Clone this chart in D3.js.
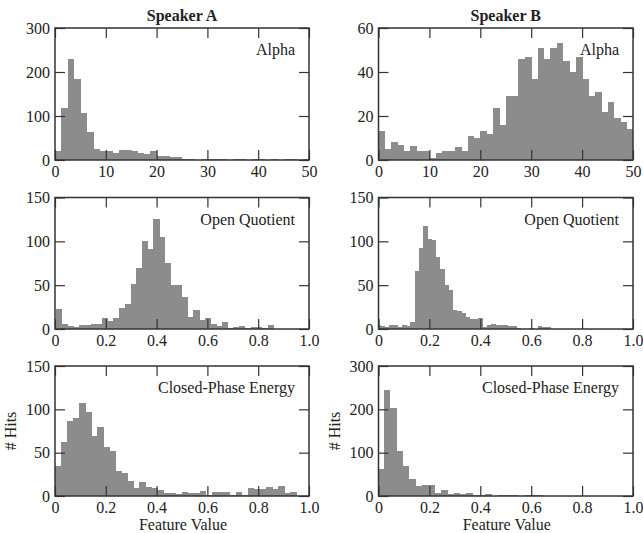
<!DOCTYPE html>
<html>
<head>
<meta charset="utf-8">
<script src="https://cdn.jsdelivr.net/npm/d3@7"></script>
<style>
  html, body { margin: 0; padding: 0; background: #ffffff; }
  svg { display: block; }
  text { font-family: "Liberation Serif", "Times New Roman", serif; fill: #222; }
</style>
</head>
<body>
<svg id="chart" width="643" height="533"></svg>
<script>
// ---------- data (histogram counts per bin) ----------
const speakers = ["Speaker A", "Speaker B"];
const featureNames = ["Alpha", "Open Quotient", "Closed-Phase Energy"];

// Alpha, 40 bins of width 1.25 starting at 0
const alphaA = [20, 119, 230, 183, 107, 64, 25, 20, 21, 15, 23, 23, 20, 17, 14, 20, 9, 9, 6, 6,
                3, 2, 1, 3, 2, 3, 3, 1, 2, 3, 1, 2, 3, 1, 2, 1, 2, 2, 1, 2];
const alphaB = [13, 5, 8, 7, 4, 6.5, 4, 4, 1, 3, 4, 4, 6, 4, 11, 10, 13, 12, 23.5, 16,
                29, 29, 46, 47, 37, 51, 46, 51, 53, 45, 40, 47, 37, 29, 31, 22, 26.5, 19, 17.5, 14];
const alphaBinStart = 0, alphaBinWidth = 1.25;

// Open Quotient
const oqA = [23, 6, 3, 2, 4, 5, 6, 6, 12, 9, 13, 24, 29, 51, 70, 100, 91, 125, 105, 75,
             50, 50, 37, 14, 22, 10, 13, 6, 3, 8, 1, 2, 3, 1, 2, 2, 1, 5];
const oqABinStart = 0.005, oqABinWidth = 0.0225;
const oqB = [4, 3, 2, 5, 4, 2, 4, 3, 8, 66, 92, 118, 103, 101, 82, 68, 50, 45, 22, 20,
             18, 14, 11, 11, 12, 2, 5, 6, 4, 4, 4, 3, 3, 1, 0, 0, 1, 0, 3, 2, 2];
const oqBBinStart = -0.008, oqBBinWidth = 1 / 60;

// Closed-Phase Energy
const cpeA = [35, 62, 86, 90, 107, 97, 69, 80, 56, 52, 29, 27, 17, 9, 16, 10, 9, 7, 3, 3,
              2, 5, 3, 4, 6, 1, 5, 5, 5, 1, 5, 1, 9, 8, 8, 10, 8, 11, 4, 5];
const cpeABinStart = 0, cpeABinWidth = 0.02375;
const cpeB = [62, 245, 202, 104, 70, 39, 22, 25, 25, 8, 14, 5, 6, 4, 6, 3, 2, 4, 1, 3,
              3, 3, 1, 2, 3, 3, 1, 0, 1];
const cpeBBinStart = -0.005, cpeBBinWidth = 0.025;

// axes
const alphaTicks = [0, 10, 20, 30, 40, 50];
const unitTicks = [0, 0.2, 0.4, 0.6, 0.8, 1.0];
const yTicksA = [[0, 100, 200, 300], [0, 50, 100, 150], [0, 50, 100, 150]];
const yTicksB = [[0, 20, 40, 60], [0, 50, 100, 150], [0, 100, 200, 300]];
const yLabel = "# Hits";
const xLabel = "Feature Value";

// ---------- layout ----------
const colX = [[55, 309], [378.5, 633]];
const rowY = [[28, 160], [197.5, 329], [366, 496]];
const barColor = "#8c8c8c";
const frameColor = "#333333";
const tickFont = 16;
const labelFont = 16;

const panels = [
  { col: 0, row: 0, counts: alphaA, start: alphaBinStart, width: alphaBinWidth, xDom: [0, 50], xTicks: alphaTicks, yTicks: yTicksA[0], label: featureNames[0] },
  { col: 1, row: 0, counts: alphaB, start: alphaBinStart, width: alphaBinWidth, xDom: [0, 50], xTicks: alphaTicks, yTicks: yTicksB[0], label: featureNames[0] },
  { col: 0, row: 1, counts: oqA, start: oqABinStart, width: oqABinWidth, xDom: [0, 1], xTicks: unitTicks, yTicks: yTicksA[1], label: featureNames[1] },
  { col: 1, row: 1, counts: oqB, start: oqBBinStart, width: oqBBinWidth, xDom: [0, 1], xTicks: unitTicks, yTicks: yTicksB[1], label: featureNames[1] },
  { col: 0, row: 2, counts: cpeA, start: cpeABinStart, width: cpeABinWidth, xDom: [0, 1], xTicks: unitTicks, yTicks: yTicksA[2], label: featureNames[2] },
  { col: 1, row: 2, counts: cpeB, start: cpeBBinStart, width: cpeBBinWidth, xDom: [0, 1], xTicks: unitTicks, yTicks: yTicksB[2], label: featureNames[2] }
];

const svg = d3.select("#chart");

const fmtX = (dom) => dom[1] > 1 ? d3.format("d") : (d => d === 0 ? "0" : d3.format(".1f")(d));

panels.forEach((p, idx) => {
  const [x0, x1] = colX[p.col];
  const [y0, y1] = rowY[p.row];
  const w = x1 - x0, h = y1 - y0;
  const g = svg.append("g").attr("transform", `translate(${x0},${y0})`);

  const x = d3.scaleLinear().domain(p.xDom).range([0, w]);
  const y = d3.scaleLinear().domain([0, d3.max(p.yTicks)]).range([h, 0]);

  const clipId = "clip" + idx;
  g.append("clipPath").attr("id", clipId).append("rect").attr("width", w).attr("height", h);

  const bins = p.counts.map((c, i) => ({
    a: Math.max(p.xDom[0], p.start + i * p.width),
    b: Math.min(p.xDom[1], p.start + (i + 1) * p.width),
    c
  }));

  g.append("g").attr("clip-path", `url(#${clipId})`)
    .selectAll("rect").data(bins).join("rect")
    .attr("x", d => x(d.a))
    .attr("width", d => Math.max(0, x(d.b) - x(d.a) + 0.4))
    .attr("y", d => y(d.c))
    .attr("height", d => h - y(d.c))
    .attr("fill", barColor)
    .attr("shape-rendering", "crispEdges");

  const fmt = fmtX(p.xDom);
  const styleAxis = sel => {
    sel.select(".domain").remove();
    sel.selectAll(".tick line").attr("stroke", frameColor).attr("stroke-width", 1.2);
    sel.selectAll(".tick text").attr("font-size", tickFont).attr("fill", "#222")
      .attr("font-family", "Liberation Serif, serif");
  };

  g.append("g").attr("transform", `translate(0,${h})`)
    .call(d3.axisBottom(x).tickValues(p.xTicks).tickFormat(fmt).tickSize(-10).tickPadding(6))
    .call(styleAxis);
  g.append("g")
    .call(d3.axisTop(x).tickValues(p.xTicks).tickFormat("").tickSize(-10))
    .call(styleAxis);
  g.append("g")
    .call(d3.axisLeft(y).tickValues(p.yTicks).tickFormat(d3.format("d")).tickSize(-10).tickPadding(5))
    .call(styleAxis);
  g.append("g").attr("transform", `translate(${w},0)`)
    .call(d3.axisRight(y).tickValues(p.yTicks).tickFormat("").tickSize(-10))
    .call(styleAxis);

  g.append("rect").attr("width", w).attr("height", h)
    .attr("fill", "none").attr("stroke", frameColor).attr("stroke-width", 1.5);

  g.append("text").attr("x", w - 14).attr("y", 27)
    .attr("text-anchor", "end").attr("font-size", labelFont).text(p.label);

  if (p.row === 0) {
    svg.append("text").attr("x", x0 + w / 2).attr("y", 21)
      .attr("text-anchor", "middle").attr("font-size", 16).attr("font-weight", "bold")
      .text(speakers[p.col]);
  }
  if (p.row === 2) {
    svg.append("text").attr("x", x0 + w / 2 + 1).attr("y", 530)
      .attr("text-anchor", "middle").attr("font-size", labelFont).text(xLabel);
    svg.append("text")
      .attr("transform", `translate(${x0 - 39},${y0 + h / 2}) rotate(-90)`)
      .attr("text-anchor", "middle").attr("font-size", labelFont).text(yLabel);
  }
});
</script>
</body>
</html>
